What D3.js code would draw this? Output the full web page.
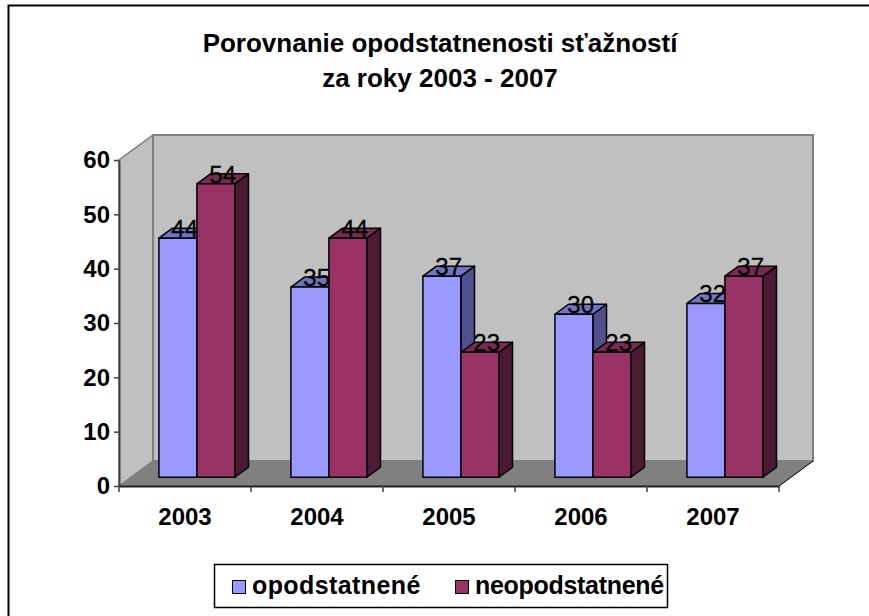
<!DOCTYPE html>
<html>
<head>
<meta charset="utf-8">
<script src="https://cdn.jsdelivr.net/npm/d3@7"></script>
<style>
  html, body { margin: 0; padding: 0; background: #fff; overflow: hidden; width: 869px; height: 616px; }
  svg { display: block; }
  text { font-family: Arial, "Liberation Sans", sans-serif; }
</style>
</head>
<body>
<script>
// data
let years = ["2003", "2004", "2005", "2006", "2007"];
let seriesNames = ["opodstatnené", "neopodstatnené"];
let opodstatnene = [44, 35, 37, 30, 32];
let neopodstatnene = [54, 44, 23, 23, 37];
let yTicks = [0, 10, 20, 30, 40, 50, 60];
let titleLines = ["Porovnanie opodstatnenosti sťažností", "za roky 2003 - 2007"];

let W = 869, H = 616;
let colors = {
  front: ["#9999ff", "#993366"],
  top: ["#7373c4", "#7a2a52"],
  side: ["#50508f", "#4d1a33"]
};

let svg = d3.select("body").append("svg")
  .attr("width", W)
  .attr("height", H);

svg.append("rect")
  .attr("width", W).attr("height", H)
  .attr("fill", "#fff");

// outer chart border (only top and left visible)
svg.append("path")
  .attr("d", "M8.5," + H + "V5.5H" + W)
  .attr("fill", "none")
  .attr("stroke", "#000")
  .attr("stroke-width", 2);

// plot geometry
let x0 = 119, x1 = 779, yBase = 486;
let depthX = 34, depthY = -25;

let xScale = d3.scaleBand().domain(years).range([x0, x1]);
let inner = d3.scaleBand().domain([0, 1]).range([0, xScale.bandwidth()])
  .paddingInner(0).paddingOuter(0.737);
let hScale = d3.scaleLinear().domain([0, 60]).range([0, 326]);

function pt(x, y, dz) { return [x + depthX * dz, y + depthY * dz]; }
function poly(points) { return points.map(p => p.join(",")).join(" "); }

let top60 = yBase - hScale(60);

// left wall
svg.append("polygon")
  .attr("points", poly([pt(x0, yBase, 0), pt(x0, top60, 0), pt(x0, top60, 1), pt(x0, yBase, 1)]))
  .attr("fill", "#c0c0c0").attr("stroke", "#808080").attr("stroke-width", 1.5);

// back wall
svg.append("polygon")
  .attr("points", poly([pt(x0, yBase, 1), pt(x0, top60, 1), pt(x1, top60, 1), pt(x1, yBase, 1)]))
  .attr("fill", "#c0c0c0").attr("stroke", "#808080").attr("stroke-width", 2);

// floor
svg.append("polygon")
  .attr("points", poly([pt(x0, yBase, 0), pt(x0, yBase, 1), pt(x1, yBase, 1), pt(x1, yBase, 0)]))
  .attr("fill", "#808080").attr("stroke", "#808080").attr("stroke-width", 1);

// floor right edge line
svg.append("line")
  .attr("x1", x1).attr("y1", yBase)
  .attr("x2", pt(x1, yBase, 1)[0]).attr("y2", pt(x1, yBase, 1)[1])
  .attr("stroke", "#000").attr("stroke-width", 1);

// bars
let dzF = 0.35, dzB = 0.75;
let bars = [];
years.forEach(function(yr, i) {
  [opodstatnene[i], neopodstatnene[i]].forEach(function(v, s) {
    bars.push({year: yr, s: s, v: v});
  });
});

let bg = svg.append("g");
bars.forEach(function(d) {
  let bx = xScale(d.year) + inner(d.s);
  let bw = inner.bandwidth();
  let ty = yBase - hScale(d.v);
  let fl = pt(bx, yBase, dzF), ftl = pt(bx, ty, dzF), ftr = pt(bx + bw, ty, dzF), fr = pt(bx + bw, yBase, dzF);
  let btl = pt(bx, ty, dzB), btr = pt(bx + bw, ty, dzB), br = pt(bx + bw, yBase, dzB);
  let g = bg.append("g").attr("stroke", "#000").attr("stroke-width", 1.5).attr("stroke-linejoin", "round");
  g.append("polygon").attr("points", poly([fr, ftr, btr, br])).attr("fill", colors.side[d.s]);
  g.append("polygon").attr("points", poly([ftl, btl, btr, ftr])).attr("fill", colors.top[d.s]);
  g.append("polygon").attr("points", poly([fl, ftl, ftr, fr])).attr("fill", colors.front[d.s]);
  d.lx = (ftl[0] + ftr[0]) / 2 + (btl[0] - ftl[0]) / 2;
  d.ly = ftl[1] - 1;
});

// value labels
svg.append("g").selectAll("text")
  .data(bars)
  .enter()
  .append("text")
  .attr("x", d => d.lx)
  .attr("y", d => d.ly)
  .attr("text-anchor", "middle")
  .style("font-size", "24px")
  .style("fill", "#000")
  .style("stroke", "#000")
  .style("stroke-width", 0.3)
  .text(d => d.v);

// y axis
let yAxisScale = d3.scaleLinear().domain([0, 60]).range([yBase, top60]);
let yAxis = d3.axisLeft(yAxisScale).tickValues(yTicks).tickSizeInner(5).tickSizeOuter(0).tickPadding(4);
let gy = svg.append("g")
  .attr("transform", "translate(" + x0 + ",0)")
  .call(yAxis);
gy.select(".domain").attr("stroke", "#404040").attr("stroke-width", 2);
gy.selectAll(".tick line").attr("stroke", "#404040").attr("stroke-width", 1.5);
gy.selectAll(".tick text")
  .style("font-size", "24px").style("font-weight", "bold").style("fill", "#000")
  .style("font-family", "Arial, 'Liberation Sans', sans-serif");

// x axis
let xAxis = d3.axisBottom(xScale).tickSize(0).tickPadding(22);
let gx = svg.append("g")
  .attr("transform", "translate(0," + yBase + ")")
  .call(xAxis);
gx.select(".domain").attr("stroke", "#202020").attr("stroke-width", 2);
gx.selectAll(".tick text")
  .style("font-size", "24px").style("font-weight", "bold").style("fill", "#000")
  .style("font-family", "Arial, 'Liberation Sans', sans-serif");
// category separators
gx.selectAll(".sep")
  .data(years.concat(["end"]))
  .enter()
  .append("line")
  .attr("x1", (d, i) => x0 + i * xScale.step())
  .attr("x2", (d, i) => x0 + i * xScale.step())
  .attr("y1", 0).attr("y2", 6)
  .attr("stroke", "#404040").attr("stroke-width", 1.5);

// title
svg.append("g").selectAll("text")
  .data(titleLines)
  .enter()
  .append("text")
  .attr("x", 440)
  .attr("y", (d, i) => 52 + i * 35)
  .attr("text-anchor", "middle")
  .style("font-size", "26px")
  .style("font-weight", "bold")
  .text(d => d);

// legend
let lg = svg.append("g");
lg.append("rect")
  .attr("x", 214.5).attr("y", 564.5)
  .attr("width", 453).attr("height", 43)
  .attr("fill", "#fff").attr("stroke", "#000").attr("stroke-width", 1.5);
let legendX = [232, 455];
seriesNames.forEach(function(n, i) {
  lg.append("rect")
    .attr("x", legendX[i] + 0.5).attr("y", 580.5)
    .attr("width", 13).attr("height", 13)
    .attr("fill", colors.front[i]).attr("stroke", "#000").attr("stroke-width", 1);
  lg.append("text")
    .attr("x", legendX[i] + 20).attr("y", 594)
    .style("font-size", "25px").style("font-weight", "bold")
    .style("letter-spacing", i === 0 ? "0.4px" : "-0.3px")
    .text(n);
});
</script>
</body>
</html>
